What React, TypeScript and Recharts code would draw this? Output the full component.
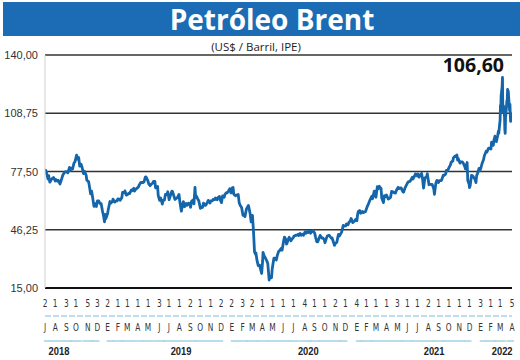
import React from 'react';
import { LineChart, Line, XAxis, YAxis, CartesianGrid } from 'recharts';

// Brent (US$/barril) — [MM-DD, price]
const brent2018: [string, number][] = [
  ['07-02', 77.3], ['07-04', 78.2], ['07-06', 77.1], ['07-11', 73.4], ['07-13', 75.3], ['07-16', 71.8],
  ['07-19', 72.6], ['07-20', 73.1], ['07-25', 74.0], ['07-27', 74.3], ['08-01', 72.4], ['08-03', 73.2],
  ['08-08', 72.3], ['08-10', 72.8], ['08-15', 70.8], ['08-17', 71.8], ['08-22', 74.8], ['08-24', 75.8],
  ['08-29', 77.1], ['08-31', 77.4], ['09-05', 77.3], ['09-07', 76.8], ['09-12', 79.7], ['09-14', 78.1],
  ['09-19', 79.4], ['09-21', 78.8], ['09-25', 81.9], ['09-28', 82.7], ['10-03', 86.3], ['10-05', 84.2],
  ['10-09', 85.0], ['10-12', 80.4], ['10-16', 81.4], ['10-19', 79.8], ['10-23', 76.4], ['10-26', 77.6],
  ['10-31', 75.5], ['11-02', 72.8], ['11-07', 72.1], ['11-09', 70.2], ['11-13', 65.5], ['11-16', 67.0],
  ['11-20', 62.5], ['11-23', 58.8], ['11-27', 60.2], ['11-30', 58.7], ['12-03', 61.7], ['12-07', 61.7],
  ['12-11', 60.2], ['12-14', 60.3], ['12-18', 56.3], ['12-21', 53.8], ['12-24', 50.5], ['12-26', 54.5],
  ['12-28', 52.2],
];
const brent2019: [string, number][] = [
  ['01-02', 54.9], ['01-04', 57.1], ['01-09', 61.4], ['01-11', 60.5], ['01-16', 61.3], ['01-18', 62.7],
  ['01-23', 61.1], ['01-25', 61.6], ['01-30', 61.7], ['02-01', 62.8], ['02-06', 62.7], ['02-08', 62.1],
  ['02-13', 63.6], ['02-15', 66.3], ['02-20', 66.1], ['02-22', 67.1], ['02-26', 64.8], ['03-01', 65.1],
  ['03-06', 65.9], ['03-08', 65.7], ['03-13', 67.6], ['03-15', 67.2], ['03-20', 68.5], ['03-22', 67.0],
  ['03-26', 68.0], ['03-29', 68.4], ['04-03', 69.3], ['04-05', 70.3], ['04-10', 71.7], ['04-12', 71.6],
  ['04-17', 71.6], ['04-19', 71.9], ['04-23', 74.5], ['04-25', 74.6], ['04-30', 72.8], ['05-03', 70.9],
  ['05-07', 69.9], ['05-10', 70.6], ['05-14', 71.2], ['05-17', 72.2], ['05-21', 72.2], ['05-23', 68.8],
  ['05-24', 68.7], ['05-29', 69.5], ['05-31', 64.5], ['06-04', 62.0], ['06-07', 63.3], ['06-12', 60.0],
  ['06-14', 62.0], ['06-18', 62.1], ['06-21', 65.2], ['06-25', 65.1], ['06-28', 66.6], ['07-02', 62.4],
  ['07-05', 64.2], ['07-10', 67.0], ['07-12', 66.7], ['07-17', 63.7], ['07-19', 62.5], ['07-24', 63.2],
  ['07-26', 63.5], ['07-31', 65.2], ['08-02', 61.9], ['08-07', 56.2], ['08-09', 58.5], ['08-13', 61.3],
  ['08-16', 58.6], ['08-21', 60.3], ['08-23', 59.3], ['08-28', 60.5], ['08-30', 60.4], ['09-03', 58.3],
  ['09-06', 61.5], ['09-11', 62.4], ['09-13', 60.2], ['09-16', 69.0], ['09-18', 63.6], ['09-20', 64.3],
  ['09-25', 62.4], ['09-27', 61.9], ['10-02', 57.7], ['10-04', 58.4], ['10-08', 58.2], ['10-11', 60.5],
  ['10-16', 59.4], ['10-18', 59.4], ['10-23', 61.2], ['10-25', 62.0], ['10-30', 60.6], ['11-01', 61.7],
  ['11-06', 61.7], ['11-08', 62.5], ['11-13', 62.4], ['11-15', 63.3], ['11-20', 62.4], ['11-22', 63.4],
  ['11-27', 64.1], ['11-29', 62.4], ['12-03', 60.8], ['12-06', 64.4], ['12-11', 63.7], ['12-13', 65.2],
  ['12-18', 66.2], ['12-20', 66.1], ['12-24', 67.2], ['12-27', 68.2], ['12-31', 66.0],
];
const brent2020: [string, number][] = [
  ['01-02', 66.3], ['01-03', 68.6], ['01-06', 68.9], ['01-08', 65.4], ['01-10', 65.0], ['01-14', 64.5],
  ['01-17', 64.9], ['01-21', 65.2], ['01-24', 60.7], ['01-27', 59.3], ['01-31', 58.2], ['02-04', 54.0],
  ['02-07', 54.5], ['02-10', 53.3], ['02-14', 57.3], ['02-20', 59.3], ['02-21', 58.5], ['02-25', 55.0],
  ['02-28', 50.5], ['03-03', 53.9], ['03-06', 45.3], ['03-09', 34.4], ['03-12', 33.2], ['03-13', 33.9],
  ['03-16', 30.1], ['03-18', 28.5], ['03-20', 27.0], ['03-24', 27.2], ['03-27', 24.9], ['03-30', 22.8],
  ['04-02', 29.9], ['04-03', 34.1], ['04-07', 31.9], ['04-09', 31.5], ['04-14', 29.6], ['04-17', 28.1],
  ['04-21', 19.3], ['04-22', 20.4], ['04-24', 21.4], ['04-28', 20.5], ['04-30', 25.3], ['05-01', 26.4],
  ['05-05', 31.0], ['05-08', 31.0], ['05-12', 30.0], ['05-15', 32.5], ['05-19', 34.7], ['05-22', 35.1],
  ['05-26', 36.2], ['05-29', 35.3], ['06-02', 39.6], ['06-05', 42.3], ['06-09', 41.2], ['06-11', 38.6],
  ['06-12', 38.7], ['06-16', 41.0], ['06-19', 42.2], ['06-24', 40.3], ['06-26', 41.0], ['07-01', 42.0],
  ['07-03', 42.8], ['07-08', 43.3], ['07-10', 43.2], ['07-15', 43.8], ['07-17', 43.1], ['07-21', 44.3],
  ['07-24', 43.3], ['07-29', 43.8], ['07-31', 43.3], ['08-05', 45.2], ['08-07', 44.4], ['08-12', 45.4],
  ['08-14', 44.8], ['08-19', 45.4], ['08-21', 44.4], ['08-26', 45.6], ['08-28', 45.8], ['09-02', 44.4],
  ['09-04', 42.7], ['09-08', 39.8], ['09-11', 39.8], ['09-16', 42.2], ['09-18', 43.2], ['09-23', 41.8],
  ['09-25', 41.9], ['09-30', 41.0], ['10-02', 39.3], ['10-07', 42.0], ['10-09', 42.9], ['10-14', 43.3],
  ['10-16', 42.9], ['10-21', 41.7], ['10-23', 41.8], ['10-28', 39.1], ['10-30', 37.9], ['11-02', 39.0],
  ['11-06', 39.5], ['11-09', 42.4], ['11-11', 43.8], ['11-13', 42.8], ['11-18', 44.3], ['11-20', 45.0],
  ['11-25', 48.6], ['11-27', 48.2], ['12-02', 48.3], ['12-04', 49.3], ['12-09', 48.9], ['12-11', 50.0],
  ['12-16', 51.1], ['12-18', 52.3], ['12-21', 50.9], ['12-23', 50.1], ['12-29', 51.1], ['12-31', 51.8],
];
const brent2021: [string, number][] = [
  ['01-04', 51.1], ['01-06', 54.3], ['01-08', 56.0], ['01-12', 56.6], ['01-15', 55.1], ['01-20', 56.1],
  ['01-22', 55.4], ['01-27', 55.8], ['01-29', 55.9], ['02-03', 58.5], ['02-05', 59.3], ['02-10', 61.5],
  ['02-12', 62.4], ['02-17', 64.3], ['02-19', 62.9], ['02-24', 67.0], ['02-25', 66.9], ['03-01', 63.7],
  ['03-05', 69.4], ['03-08', 68.2], ['03-11', 69.6], ['03-12', 69.2], ['03-16', 68.4], ['03-18', 63.3],
  ['03-23', 60.8], ['03-26', 64.6], ['03-30', 64.1], ['04-01', 64.9], ['04-06', 62.7], ['04-09', 63.0],
  ['04-13', 63.7], ['04-16', 66.8], ['04-20', 66.6], ['04-23', 66.1], ['04-27', 65.9], ['04-30', 67.3],
  ['05-05', 69.0], ['05-07', 68.3], ['05-11', 68.6], ['05-14', 68.7], ['05-19', 66.7], ['05-21', 66.4],
  ['05-26', 68.9], ['05-28', 69.6], ['06-02', 71.4], ['06-04', 71.9], ['06-09', 72.2], ['06-11', 72.7],
  ['06-16', 74.4], ['06-18', 73.5], ['06-23', 75.2], ['06-25', 76.2], ['06-30', 75.1], ['07-02', 76.2],
  ['07-06', 74.5], ['07-09', 75.6], ['07-13', 76.5], ['07-16', 73.6], ['07-19', 68.6], ['07-23', 74.1],
  ['07-28', 74.7], ['07-30', 76.3], ['08-04', 70.4], ['08-06', 70.7], ['08-10', 70.6], ['08-13', 70.6],
  ['08-18', 68.2], ['08-20', 65.2], ['08-24', 71.1], ['08-27', 72.7], ['09-01', 71.6], ['09-03', 72.6],
  ['09-08', 72.6], ['09-10', 72.9], ['09-15', 75.5], ['09-17', 75.3], ['09-22', 76.2], ['09-24', 78.1],
  ['09-28', 78.0], ['10-01', 79.3], ['10-06', 81.1], ['10-08', 82.4], ['10-13', 83.2], ['10-15', 84.9],
  ['10-20', 85.8], ['10-22', 85.5], ['10-25', 86.4], ['10-27', 83.6], ['10-29', 84.4], ['11-03', 82.0],
  ['11-05', 82.7], ['11-10', 82.6], ['11-12', 82.2], ['11-17', 80.3], ['11-19', 78.9], ['11-24', 82.3],
  ['11-26', 72.7], ['11-30', 70.6], ['12-01', 68.9], ['12-03', 69.9], ['12-07', 75.4], ['12-10', 75.2],
  ['12-15', 73.9], ['12-17', 73.5], ['12-20', 71.5], ['12-22', 75.3], ['12-24', 76.1], ['12-29', 79.2],
  ['12-31', 77.8],
];
const brent2022: [string, number][] = [
  ['01-03', 79.0], ['01-07', 81.8], ['01-11', 83.7], ['01-14', 86.1], ['01-19', 88.4], ['01-21', 87.9],
  ['01-26', 90.0], ['01-28', 90.0], ['02-02', 89.5], ['02-04', 93.3], ['02-09', 91.6], ['02-11', 94.4],
  ['02-14', 96.5], ['02-16', 94.8], ['02-18', 93.5], ['02-22', 96.8], ['02-24', 99.1], ['02-25', 97.9],
  ['03-01', 105.0], ['03-02', 112.9], ['03-03', 110.5], ['03-04', 118.1], ['03-07', 123.2], ['03-08', 128.0],
  ['03-09', 111.1], ['03-10', 109.3], ['03-11', 112.7], ['03-14', 106.9], ['03-15', 99.9], ['03-16', 98.0],
  ['03-17', 106.6], ['03-18', 107.9], ['03-21', 115.6], ['03-22', 115.5], ['03-23', 121.6], ['03-24', 119.0],
  ['03-25', 120.7], ['03-28', 112.5], ['03-29', 110.2], ['03-30', 113.5], ['03-31', 107.9], ['04-01', 104.4],
  ['04-04', 107.5], ['04-05', 106.6],
];

// first quoted day of each month (x-axis ticks)
const monthTicks: string[] = [
  '2018-07-02', '2018-08-01', '2018-09-03', '2018-10-01', '2018-11-05', '2018-12-03',
  '2019-01-02', '2019-02-01', '2019-03-01', '2019-04-01', '2019-05-01', '2019-06-03',
  '2019-07-01', '2019-08-01', '2019-09-02', '2019-10-01', '2019-11-01', '2019-12-02',
  '2020-01-02', '2020-02-03', '2020-03-02', '2020-04-01', '2020-05-01', '2020-06-01',
  '2020-07-01', '2020-08-04', '2020-09-01', '2020-10-01', '2020-11-02', '2020-12-01',
  '2021-01-04', '2021-02-01', '2021-03-01', '2021-04-01', '2021-05-03', '2021-06-01',
  '2021-07-01', '2021-08-02', '2021-09-01', '2021-10-01', '2021-11-01', '2021-12-01',
  '2022-01-03', '2022-02-01', '2022-03-01', '2022-04-05',
];
const monthLetters = ['E', 'F', 'M', 'A', 'M', 'J', 'J', 'A', 'S', 'O', 'N', 'D'];
const yearLabels: { year: string; at: string }[] = [
  { year: '2018', at: '2018-08-12' },
  { year: '2019', at: '2019-08-06' },
  { year: '2020', at: '2020-08-14' },
  { year: '2021', at: '2021-08-19' },
  { year: '2022', at: '2022-03-07' },
];
const yTicks = [15, 46.25, 77.5, 108.75, 140];
const lastValueLabel = '106,60';
const title = 'Petróleo Brent';
const subtitle = '(US$ / Barril, IPE)';

const dayNum = (iso: string) => {
  const [y, m, d] = iso.split('-').map(Number);
  return Math.round(Date.UTC(y, m - 1, d) / 86400000);
};
const toDate = (n: number) => new Date(n * 86400000);

const series: { t: number; v: number }[] = [
  ['2018', brent2018], ['2019', brent2019], ['2020', brent2020], ['2021', brent2021], ['2022', brent2022],
].flatMap(([yr, arr]) => (arr as [string, number][]).map(([md, v]) => ({ t: dayNum(`${yr}-${md}`), v })));

const monthTickNums = monthTicks.map(dayNum);
const yearLabelMap = new Map(yearLabels.map((y) => [dayNum(y.at), y.year]));
const secondTicks = [...monthTickNums, ...yearLabels.map((y) => dayNum(y.at))].sort((a, b) => a - b);
const domain: [number, number] = [monthTickNums[0], monthTickNums[monthTickNums.length - 1]];

const narrow = '"Liberation Sans Narrow", "DejaVu Sans Condensed", "Liberation Sans", sans-serif';
const sans = '"Liberation Sans", Arial, sans-serif';

const DayTick = (props: any) => {
  const { x, y, payload } = props;
  const d = toDate(payload.value).getUTCDate();
  return (
    <text
      transform={`translate(${x},${y + 15}) scale(0.75,1)`}
      textAnchor="middle"
      dominantBaseline="central"
      fontSize={11}
      fontFamily={narrow}
      fill="#333"
    >
      {d}
    </text>
  );
};

const MonthTick = (props: any) => {
  const { x, y, payload } = props;
  const v = payload.value as number;
  const yl = yearLabelMap.get(v);
  if (yl && !monthTickNums.includes(v)) {
    return (
      <text
        transform={`translate(${x},${y + 35}) scale(0.85,1)`}
        textAnchor="middle"
        dominantBaseline="central"
        fontSize={11}
        fontWeight="bold"
        fontFamily={sans}
        fill="#222"
      >
        {yl}
      </text>
    );
  }
  const idx = monthTickNums.indexOf(v);
  const dt = toDate(v);
  const yr = dt.getUTCFullYear();
  const prevSame = idx > 0 && toDate(monthTickNums[idx - 1]).getUTCFullYear() === yr;
  const nextSame = idx < monthTickNums.length - 1 && toDate(monthTickNums[idx + 1]).getUTCFullYear() === yr;
  const x1 = prevSame ? x - 5.6 : x - 1;
  const x2 = nextSame ? x + 5.6 : x + 2;
  return (
    <g>
      <text
        transform={`translate(${x},${y + 11}) scale(0.75,1)`}
        textAnchor="middle"
        dominantBaseline="central"
        fontSize={11}
        fontFamily={narrow}
        fill="#333"
      >
        {monthLetters[dt.getUTCMonth()]}
      </text>
      <line x1={x1} x2={x2} y1={y + 25} y2={y + 25} stroke="#a9d3e6" strokeWidth={1.6} />
    </g>
  );
};

const YTick = (props: any) => {
  const { x, y, payload } = props;
  return (
    <text
      x={x - 7}
      y={y}
      textAnchor="end"
      dominantBaseline="central"
      fontSize={11}
      fontFamily={sans}
      fill="#333"
    >
      {(payload.value as number).toFixed(2).replace('.', ',')}
    </text>
  );
};

export default function App() {
  return (
    <div style={{ position: 'absolute', left: 0, top: 0, width: 520, height: 360, background: '#fff', overflow: 'hidden' }}>
      <div
        style={{
          position: 'absolute', left: 3, top: 2, width: 517, height: 34, background: '#1b6cb4',
        }}
      />
      <div
        style={{
          position: 'absolute', left: 0, top: 2, width: 544, height: 34, lineHeight: '34px', textAlign: 'center',
          color: '#fff', fontFamily: '"Open Sans", sans-serif', fontWeight: 700, fontSize: 28,
        }}
      >
        {title}
      </div>
      <div
        style={{
          position: 'absolute', left: 0, top: 39, width: 512, height: 16, lineHeight: '16px', textAlign: 'center',
          color: '#222', fontFamily: '"Open Sans", sans-serif', fontSize: 11.5,
        }}
      >
        {subtitle}
      </div>
      <div
        style={{
          position: 'absolute', left: 400, top: 53, width: 104, height: 24, lineHeight: '24px', textAlign: 'right',
          color: '#111', fontFamily: '"Open Sans", sans-serif', fontWeight: 700, fontSize: 19.5,
        }}
      >
        {lastValueLabel}
      </div>
      <div style={{ position: 'absolute', left: 0, top: 0 }}>
        <LineChart width={520} height={360} data={series} margin={{ top: 55, right: 8, left: 0, bottom: 0 }}>
          <CartesianGrid vertical={false} stroke="#333" strokeWidth={1.4} />
          <XAxis
            dataKey="t"
            type="number"
            domain={domain}
            allowDataOverflow
            ticks={monthTickNums}
            interval={0}
            tick={<DayTick />}
            tickLine={false}
            tickSize={0}
            tickMargin={0}
            height={28}
            axisLine={{ stroke: '#111', strokeWidth: 2 }}
          />
          <XAxis
            xAxisId="mon"
            dataKey="t"
            type="number"
            domain={domain}
            allowDataOverflow
            ticks={secondTicks}
            interval={0}
            tick={<MonthTick />}
            tickLine={false}
            tickSize={0}
            tickMargin={0}
            height={44}
            axisLine={{ stroke: '#a9d3e6', strokeWidth: 1.5, strokeDasharray: '6 2' }}
          />
          <YAxis
            type="number"
            domain={[15, 140]}
            ticks={yTicks}
            interval={0}
            width={45}
            tick={<YTick />}
            tickLine={false}
            tickSize={0}
            tickMargin={0}
            axisLine={{ stroke: '#cfcfcf', strokeWidth: 1 }}
          />
          <Line
            dataKey="v"
            type="linear"
            stroke="#1465aa"
            strokeWidth={2.8}
            dot={false}
            strokeLinejoin="round"
            isAnimationActive={false}
          />
        </LineChart>
      </div>
    </div>
  );
}
